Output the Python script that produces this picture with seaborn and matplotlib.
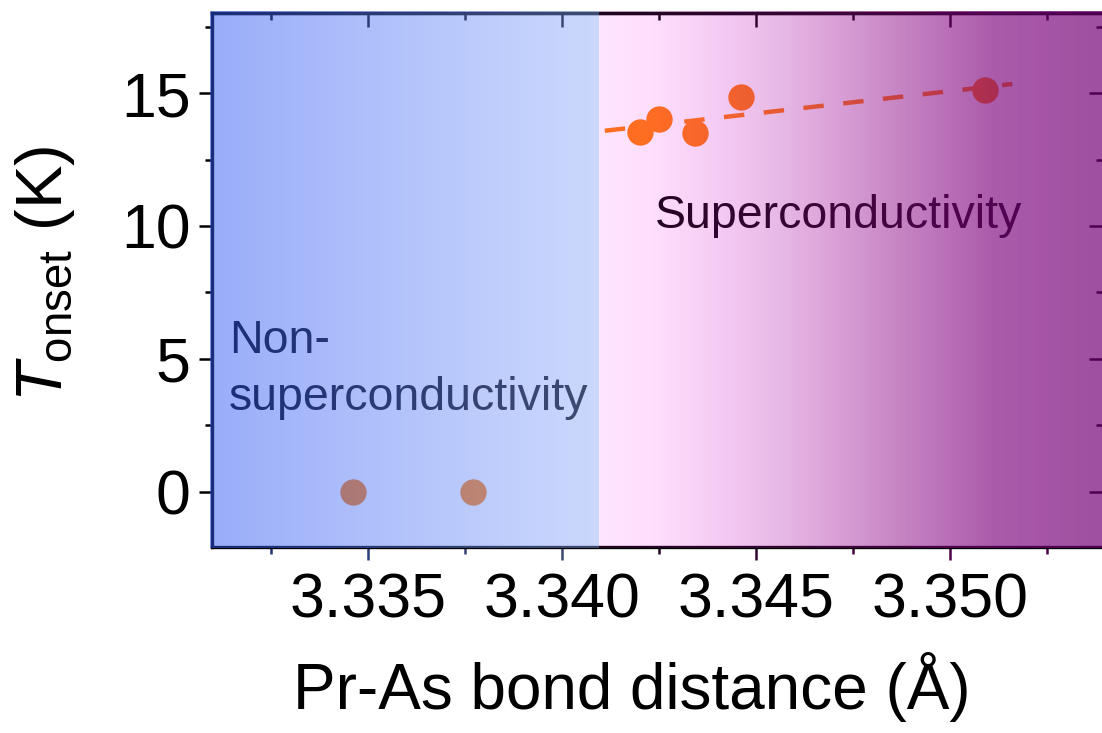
import numpy as np
import pandas as pd
import matplotlib
matplotlib.use("Agg")
import matplotlib.pyplot as plt
import seaborn as sns
from matplotlib.ticker import MultipleLocator, FormatStrFormatter, FixedLocator

# ---------------- data ----------------
nonsc_x = [3.33461, 3.33771]
nonsc_y = [0.0, 0.0]
sc_x = [3.34201, 3.34250, 3.34343, 3.34461, 3.35090]
sc_y = [13.53, 14.02, 13.50, 14.85, 15.11]
fit_x = [3.3411, 3.3516]
fit_y = [13.58, 15.34]
x_ticks = [3.335, 3.340, 3.345, 3.350]
y_ticks = [0, 5, 10, 15]
region_boundary = 3.34095
label_nonsc = ["Non-", "superconductivity"]
label_sc = "Superconductivity"
x_label = "Pr-As bond distance (Å)"
y_label = r"$T_{\mathrm{onset}}$ (K)"

# ---------------- style ----------------
sns.set_theme(style="white")
plt.rcParams["font.family"] = ["Liberation Sans", "DejaVu Sans"]
plt.rcParams["mathtext.fontset"] = "custom"
plt.rcParams["mathtext.rm"] = "Liberation Sans"
plt.rcParams["mathtext.it"] = "Liberation Sans:italic"
plt.rcParams["axes.unicode_minus"] = False
for key in ["text.color", "axes.labelcolor", "xtick.color", "ytick.color",
            "axes.edgecolor"]:
    plt.rcParams[key] = "black"

ORANGE = "#ff7a00"
XL = (3.33098, 3.35394)
YL = (-2.07, 18.01)

# overlay colour stops (overlay rgb + alpha), left blue zone / right purple zone
blue_x = [XL[0] - 0.0001, region_boundary]
blue_c = np.array([[50, 90, 244, 0.50], [140, 169, 251, 0.45]])
pink_x = [region_boundary, 3.34240, 3.34562, 3.34845, 3.35116, 3.35394]
pink_c = np.array([[255, 40, 255, 0.12], [245, 30, 240, 0.15],
                   [175, 18, 168, 0.30], [142, 7, 136, 0.48],
                   [126, 5, 126, 0.66], [117, 0, 117, 0.69]])


def overlay(xs):
    xs = np.atleast_1d(np.asarray(xs, dtype=float))
    out = np.zeros((xs.size, 4))
    left = xs < region_boundary
    for k in range(4):
        out[left, k] = np.interp(xs[left], blue_x, blue_c[:, k])
        out[~left, k] = np.interp(xs[~left], pink_x, pink_c[:, k])
    out[:, :3] /= 255.0
    return out


fig = plt.figure(figsize=(11.02, 7.33), dpi=100)
ax = fig.add_axes([0.1924, 0.2538, 0.8086, 0.7285])

# data marks (drawn beneath the tinted overlay)
sns.lineplot(x=fit_x, y=fit_y, ax=ax, color=ORANGE, lw=3.2, zorder=2.1,
             legend=False, sort=False)
ax.lines[-1].set_dashes((4.6, 4.4))
sns.scatterplot(x=sc_x, y=sc_y, ax=ax, color=ORANGE, s=360, linewidth=0,
                zorder=2.2, legend=False)
sns.scatterplot(x=nonsc_x, y=nonsc_y, ax=ax, color=ORANGE, s=360, linewidth=0,
                zorder=2.2, legend=False)

# region labels
ax.text(3.33142, 5.22, label_nonsc[0], fontsize=33.5, color="black",
        ha="left", va="baseline", zorder=2.0)
ax.text(3.33142, 3.08, label_nonsc[1], fontsize=33.5, color="black",
        ha="left", va="baseline", zorder=2.0)
ax.text(3.3424, 9.92, label_sc, fontsize=33.5, color="black",
        ha="left", va="baseline", zorder=2.0)

# axes, ticks
for s in ax.spines.values():
    s.set_linewidth(2.4)
    s.set_color("black")
    s.set_visible(True)

ax.xaxis.set_major_locator(FixedLocator(x_ticks))
ax.xaxis.set_minor_locator(MultipleLocator(0.0025))
ax.xaxis.set_major_formatter(FormatStrFormatter("%.3f"))
ax.yaxis.set_major_locator(FixedLocator(y_ticks))
ax.yaxis.set_minor_locator(MultipleLocator(2.5))

ax.tick_params(axis="both", which="both", direction="out", color="black",
               width=1.8, bottom=True, left=True, top=False, right=False)
ax.tick_params(axis="both", which="major", length=9.5, labelsize=45,
               labelcolor="black")
ax.tick_params(axis="both", which="minor", length=5)
ax.tick_params(axis="x", which="major", pad=8)
ax.tick_params(axis="y", which="major", pad=6)

sec_x = ax.secondary_xaxis("top")
sec_x.xaxis.set_major_locator(FixedLocator(x_ticks))
sec_x.xaxis.set_minor_locator(MultipleLocator(0.0025))
sec_x.tick_params(axis="x", which="both", direction="in", width=1.8,
                  color="black", labeltop=False)
sec_x.tick_params(axis="x", which="major", length=10)
sec_x.tick_params(axis="x", which="minor", length=5)
sec_x.spines["top"].set_linewidth(2.4)

sec_y = ax.secondary_yaxis("right")
sec_y.yaxis.set_major_locator(FixedLocator(y_ticks))
sec_y.yaxis.set_minor_locator(MultipleLocator(2.5))
sec_y.tick_params(axis="y", which="both", direction="in", width=1.8,
                  color="black", labelright=False)
sec_y.tick_params(axis="y", which="major", length=10)
sec_y.tick_params(axis="y", which="minor", length=5)
sec_y.spines["right"].set_linewidth(2.4)

ax.set_xlabel(x_label, fontsize=46)
ax.set_ylabel(y_label, fontsize=47)
ax.xaxis.set_label_coords(0.471, -0.197)
ax.yaxis.set_label_coords(-0.152, 0.512)

ax.set_xlim(*XL)
ax.set_ylim(*YL)

# ---------------- tinted gradient overlay (blue / pink-purple) ----------------
ox0, ox1 = XL[0] - 0.00004, XL[1] + 0.0001
oy0, oy1 = YL[0] - 0.055, YL[1] + 0.055
W = 1600
xs = np.linspace(ox0, ox1, W)
img = np.repeat(overlay(xs)[None, :, :], 4, axis=0)
ax.imshow(img, extent=[ox0, ox1, oy0, oy1], origin="lower", aspect="auto",
          interpolation="nearest", zorder=3, clip_on=False)
ax.set_xlim(*XL)
ax.set_ylim(*YL)

# bottom (outward) ticks take the tint of the overlay above them
maj_locs = ax.xaxis.get_majorticklocs()
min_locs = ax.xaxis.get_minorticklocs()
for ticks, locs in [(ax.xaxis.get_major_ticks(len(maj_locs)), maj_locs),
                    (ax.xaxis.get_minor_ticks(len(min_locs)), min_locs)]:
    for t, loc in zip(ticks, locs):
        o = overlay(loc)[0]
        c = tuple(o[:3] * o[3])
        t.tick1line.set_markeredgecolor(c)
        t.tick1line.set_color(c)

fig.savefig("out.png", dpi=100)
